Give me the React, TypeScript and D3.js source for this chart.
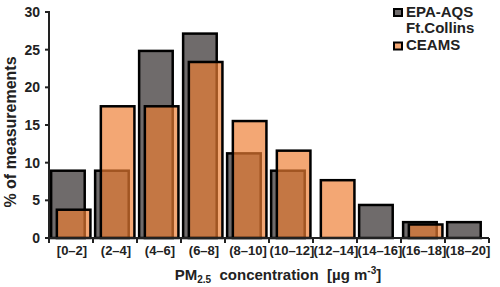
import React from 'react'
import * as d3 from 'd3'

const categories = ['[0–2]', '(2–4]', '(4–6]', '(6–8]', '(8–10]', '(10–12]', '(12–14]', '(14–16]', '(16–18]', '(18–20]']
const epaValues = [9.1, 9.1, 25.0, 27.3, 11.4, 9.1, 0, 4.55, 2.27, 2.27]
const ceamsValues = [3.92, 17.65, 17.65, 23.53, 15.69, 11.76, 7.84, 0, 1.96, 0]
const yTicks = [0, 5, 10, 15, 20, 25, 30]

const FONT = "'Liberation Sans', Arial, sans-serif"
const GRAY = '#6f6b6b'
const ORANGE = 'rgba(237,126,50,0.68)'

const App = () => {
  const width = 500
  const height = 287
  const margin = { top: 12, right: 11, bottom: 49, left: 49 }

  const x = d3
    .scaleBand<string>()
    .domain(categories)
    .range([margin.left, width - margin.right])
  const bw = x.bandwidth()
  const y = d3
    .scaleLinear()
    .domain([0, 30])
    .range([height - margin.bottom, margin.top])
  const y0 = y(0)
  const sw = 2.5

  // tick positions at the band edges
  const edges = categories.map((c) => x(c) as number).concat([width - margin.right])

  const bar = (vals: number[], offset: number, fill: string, key: string) =>
    vals.map((v, i) =>
      v > 0 ? (
        <rect
          key={key + i}
          x={(x(categories[i]) as number) + bw * offset + sw / 2}
          y={y(v) + sw / 2}
          width={bw * 0.82 - sw}
          height={y0 - y(v) - sw / 2}
          fill={fill}
          stroke="#000"
          strokeWidth={sw}
        />
      ) : null
    )

  return (
    <div style={{ position: 'absolute', left: 0, top: 0 }}>
      <svg width={width} height={height} style={{ display: 'block', background: '#fff' }} fontFamily={FONT}>
        {bar(epaValues, 0.02, GRAY, 'e')}
        {bar(ceamsValues, 0.15, ORANGE, 'c')}

        {/* y axis */}
        <line x1={margin.left} x2={margin.left} y1={y(30) - 1} y2={y0} stroke="#222" strokeWidth={2} />
        {yTicks.map((t) => (
          <g key={t}>
            <line x1={margin.left - 4} x2={margin.left} y1={y(t)} y2={y(t)} stroke="#222" strokeWidth={2} />
            <text x={40} y={y(t)} dy="0.36em" textAnchor="end" fontSize={14} fontWeight="bold" fill="#222">
              {t}
            </text>
          </g>
        ))}

        {/* x axis */}
        <line x1={margin.left - 1} x2={width - margin.right} y1={y0} y2={y0} stroke="#222" strokeWidth={2} />
        {edges.map((e, i) => (
          <line key={i} x1={e} x2={e} y1={y0} y2={y0 + 5} stroke="#222" strokeWidth={2} />
        ))}
        {categories.map((c) => (
          <text
            key={c}
            x={(x(c) as number) + bw / 2 + 1}
            y={255}
            textAnchor="middle"
            fontSize={13}
            fontWeight="bold"
            fill="#222"
          >
            {c}
          </text>
        ))}

        {/* axis titles */}
        <text x={278} y={280} textAnchor="middle" fontSize={15} fontWeight="bold" fill="#222">
          PM
          <tspan fontSize={10} dy={3}>2.5</tspan>
          <tspan dy={-3}>{'\u00a0 concentration \u00a0[µg m'}</tspan>
          <tspan fontSize={10} dy={-6}>-3</tspan>
          <tspan dy={6}>]</tspan>
        </text>
        <text
          transform={`translate(16,132) rotate(-90)`}
          textAnchor="middle"
          fontSize={16}
          fontWeight="bold"
          fill="#222"
        >
          % of measurements
        </text>

        {/* legend */}
        <rect x={394} y={9} width={8} height={7} fill={GRAY} stroke="#000" strokeWidth={2} />
        <text x={406} y={17} fontSize={15} fontWeight="bold" fill="#222">EPA-AQS</text>
        <text x={406} y={33} fontSize={15} fontWeight="bold" fill="#222">Ft.Collins</text>
        <rect x={394} y={42.5} width={8} height={7} fill={ORANGE} stroke="#000" strokeWidth={2} />
        <text x={406} y={50} fontSize={15} fontWeight="bold" fill="#222">CEAMS</text>
      </svg>
    </div>
  )
}

export default App
